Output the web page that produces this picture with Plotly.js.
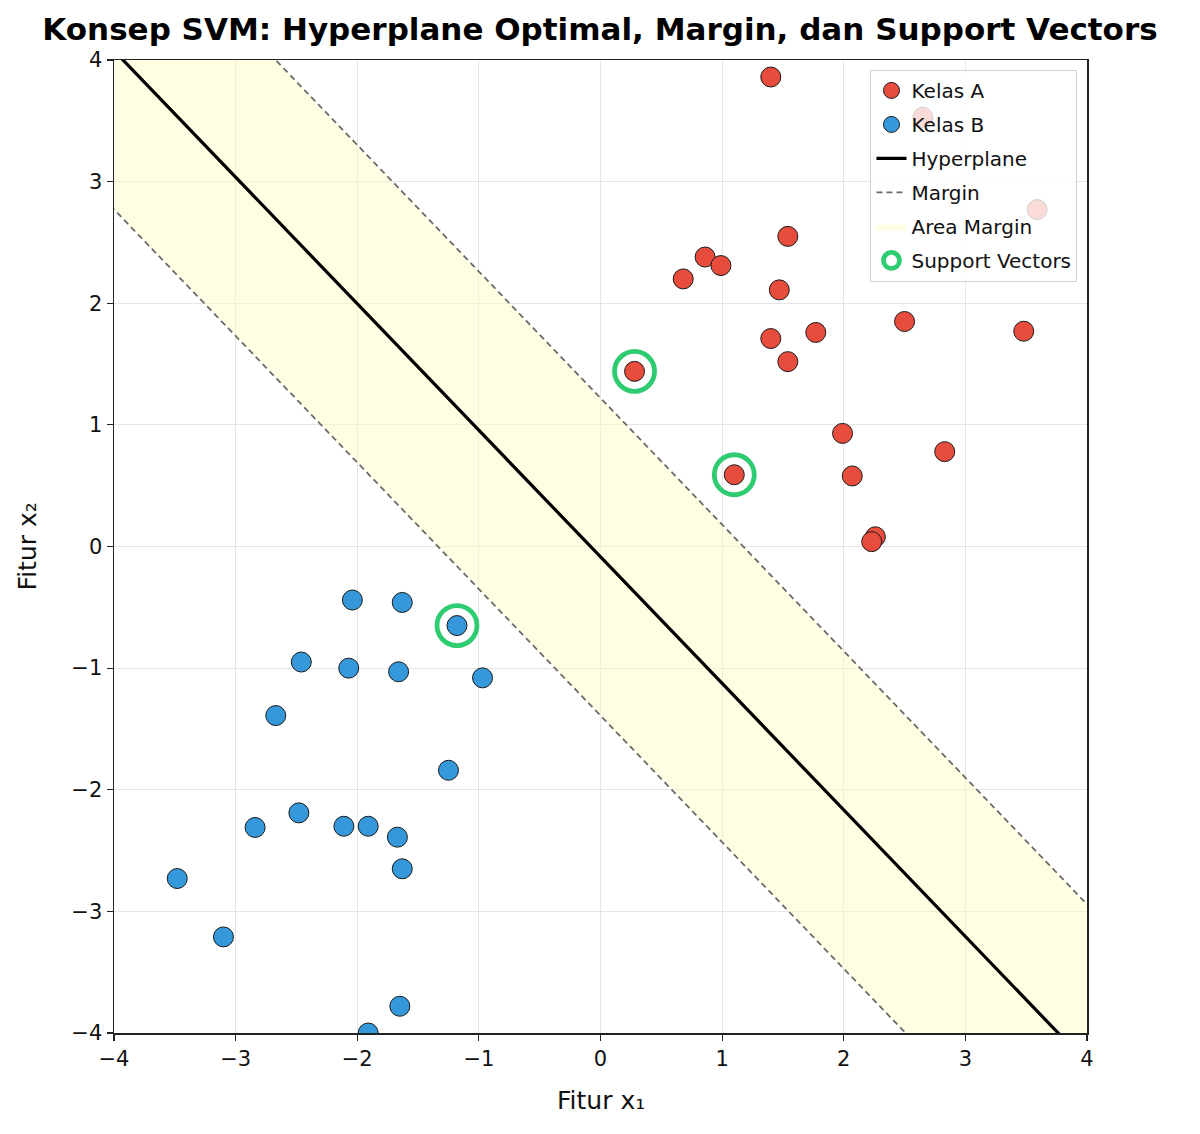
<!DOCTYPE html>
<html>
<head>
<meta charset="utf-8">
<script src="https://cdn.plot.ly/plotly-3.0.1.min.js"></script>
<style>html,body{margin:0;padding:0;background:#fff;}#chart{width:1200px;height:1134px;}</style>
</head>
<body>
<div id="chart"></div>
<script>
// Class A points
const classA_x = [1.40, 2.65, 3.59, 1.54, 0.86, 0.99, 0.68, 1.47, 2.50, 3.48, 1.77, 1.40, 1.54, 0.28, 1.99, 2.83, 1.10, 2.07, 2.26, 2.23];
const classA_y = [3.86, 3.53, 2.77, 2.55, 2.38, 2.31, 2.20, 2.11, 1.85, 1.77, 1.76, 1.71, 1.52, 1.44, 0.93, 0.78, 0.59, 0.58, 0.08, 0.04];
// Class B points
const classB_x = [-2.04, -1.63, -1.18, -2.46, -2.07, -1.66, -0.97, -2.67, -1.25, -2.48, -2.84, -2.11, -1.91, -1.67, -1.63, -3.48, -3.10, -1.65, -1.91];
const classB_y = [-0.44, -0.46, -0.65, -0.95, -1.00, -1.03, -1.08, -1.39, -1.84, -2.19, -2.31, -2.30, -2.30, -2.39, -2.65, -2.73, -3.21, -3.78, -4.00];
// Support vectors
const sv_x = [0.28, 1.10, -1.18];
const sv_y = [1.44, 0.59, -0.65];
// Model: w1*x + w2*y + b = 0 (hyperplane), = ±1 (margins)
const w = [0.797, 0.766];
const b = 0.065;
const lineX = [-5, 5];
const titleText = 'Konsep SVM: Hyperplane Optimal, Margin, dan Support Vectors';
const xTitle = 'Fitur x₁';
const yTitle = 'Fitur x₂';

function lineY(level) { return lineX.map(x => (level - b - w[0] * x) / w[1]); }
const hypY = lineY(0), upY = lineY(1), loY = lineY(-1);

const traces = [
  { x: [...lineX, ...lineX.slice().reverse()], y: [...upY, ...loY.slice().reverse()],
    mode: 'lines', fill: 'toself', fillcolor: 'rgba(255,250,190,0.45)', line: {width: 0},
    name: 'Area Margin', legendrank: 5, legendgroup: 'g5', hoverinfo: 'skip' },
  { x: lineX, y: upY, mode: 'lines', line: {color: '#6b6b6b', width: 1.8, dash: '6px,4px'},
    name: 'Margin', legendrank: 4, legendgroup: 'g4' },
  { x: lineX, y: loY, mode: 'lines', line: {color: '#6b6b6b', width: 1.8, dash: '6px,4px'},
    name: 'Margin', legendgroup: 'g4', showlegend: false },
  { x: lineX, y: hypY, mode: 'lines', line: {color: '#000', width: 3.2},
    name: 'Hyperplane', legendrank: 3, legendgroup: 'g3' },
  { x: classA_x, y: classA_y, mode: 'markers', name: 'Kelas A', legendrank: 1, legendgroup: 'g1',
    marker: {size: 20, color: '#e74c3c', line: {color: '#1a1a1a', width: 1}} },
  { x: classB_x, y: classB_y, mode: 'markers', name: 'Kelas B', legendrank: 2, legendgroup: 'g2',
    marker: {size: 20, color: '#3498db', line: {color: '#1a1a1a', width: 1}} },
  { x: sv_x, y: sv_y, mode: 'markers', name: 'Support Vectors', legendrank: 6, legendgroup: 'g6',
    marker: {size: 40, color: 'rgba(0,0,0,0)', line: {color: '#2ecc71', width: 4.8}} }
];

const axisCommon = {
  range: [-4, 4], dtick: 1, tick0: 0, showgrid: true, gridcolor: '#e6e6e6', gridwidth: 1,
  zeroline: false, showline: true, linecolor: '#222', linewidth: 1.5, mirror: true,
  ticks: 'outside', ticklen: 6, tickwidth: 1.2, tickcolor: '#222',
  tickfont: {family: 'DejaVu Sans', size: 21, color: '#111'}, fixedrange: true
};

const layout = {
  width: 1200, height: 1134,
  margin: {l: 114, r: 113, t: 60, b: 101},
  paper_bgcolor: '#fff', plot_bgcolor: '#fff',
  font: {family: 'DejaVu Sans', color: '#111'},
  title: {text: '<b>' + titleText + '</b>',
    x: 0.5, xanchor: 'center', y: 0.9745, yanchor: 'middle',
    font: {family: 'DejaVu Sans', size: 31, color: '#000'}},
  xaxis: Object.assign({}, axisCommon),
  yaxis: Object.assign({}, axisCommon),
  annotations: [
    {text: xTitle, xref: 'paper', yref: 'paper', x: 0.5, y: -0.069, xanchor: 'center', yanchor: 'middle',
     showarrow: false, font: {family: 'DejaVu Sans', size: 25, color: '#111'}},
    {text: yTitle, xref: 'paper', yref: 'paper', x: -0.0885, y: 0.5, xanchor: 'center', yanchor: 'middle',
     textangle: -90, showarrow: false, font: {family: 'DejaVu Sans', size: 25, color: '#111'}}
  ],
  showlegend: true,
  legend: {x: 0.99, y: 0.99, xanchor: 'right', yanchor: 'top',
    bgcolor: 'rgba(255,255,255,0.8)', bordercolor: '#d0d0d0', borderwidth: 1.2,
    font: {family: 'DejaVu Sans', size: 20, color: '#111'}, tracegroupgap: 5, itemsizing: 'trace'}
};

Plotly.newPlot('chart', traces, layout, {displayModeBar: false, staticPlot: true});
</script>
</body>
</html>
